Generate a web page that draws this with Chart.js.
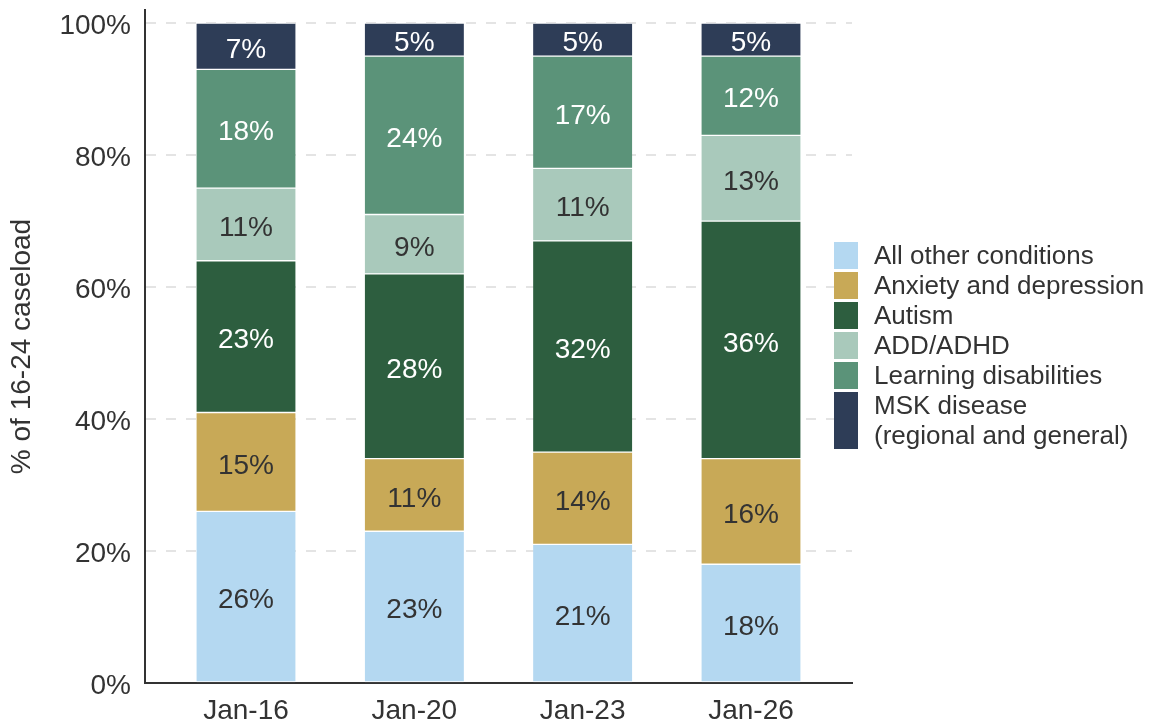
<!DOCTYPE html>
<html lang="en">
<head>
<meta charset="utf-8">
<title>16-24 caseload by condition</title>
<script src="https://cdn.jsdelivr.net/npm/chart.js@4.4.1/dist/chart.umd.min.js"></script>
<style>
  html, body { margin: 0; padding: 0; background: #ffffff; overflow: hidden; }
  #wrap { width: 1157px; height: 723px; }
</style>
</head>
<body>
<div id="wrap"><canvas id="chart-0"></canvas></div>
<script>
// data (percent of 16-24 caseload)
var categories = ['Jan-16', 'Jan-20', 'Jan-23', 'Jan-26'];
var allOther   = [26, 23, 21, 18];
var anxiety    = [15, 11, 14, 16];
var autism     = [23, 28, 32, 36];
var addAdhd    = [11, 9, 11, 13];
var learning   = [18, 24, 17, 12];
var msk        = [7, 5, 5, 5];
var yTicks     = [0, 20, 40, 60, 80, 100];

var FONT = '"Liberation Sans", Arial, Helvetica, sans-serif';
var DARK = '#333333';

function points(arr) {
    return arr.map(function (v, i) { return { x: i, y: v }; });
}

function series(label, arr, color, textColor, legendLines) {
    return {
        label: label,
        data: points(arr),
        backgroundColor: color,
        borderColor: '#ffffff',
        borderWidth: { top: 1, bottom: 1, left: 0, right: 0 },
        borderSkipped: false,
        barThickness: 99,
        textColor: textColor,
        legendLines: legendLines
    };
}

var datasets = [
    series('All other conditions', allOther, '#b4d8f1', DARK, ['All other conditions']),
    series('Anxiety and depression', anxiety, '#c8a957', DARK, ['Anxiety and depression']),
    series('Autism', autism, '#2d5e3f', '#ffffff', ['Autism']),
    series('ADD/ADHD', addAdhd, '#a9c9bb', DARK, ['ADD/ADHD']),
    series('Learning disabilities', learning, '#5b9379', '#ffffff', ['Learning disabilities']),
    series('MSK disease (regional and general)', msk, '#2e3d57', '#ffffff', ['MSK disease', '(regional and general)'])
];

// value labels in the middle of each segment
var segmentLabels = {
    id: 'segmentLabels',
    afterDatasetsDraw: function (chart) {
        var ctx = chart.ctx;
        ctx.save();
        ctx.font = '28px ' + FONT;
        ctx.textAlign = 'center';
        ctx.textBaseline = 'middle';
        chart.data.datasets.forEach(function (ds, di) {
            var meta = chart.getDatasetMeta(di);
            meta.data.forEach(function (bar, i) {
                ctx.fillStyle = ds.textColor;
                ctx.fillText(ds.data[i].y + '%', bar.x, (bar.y + bar.base) / 2 + 4);
            });
        });
        ctx.restore();
    }
};

// legend on the right, first series at the top
var sideLegend = {
    id: 'sideLegend',
    afterDraw: function (chart) {
        var ctx = chart.ctx;
        var x = 834, y = 242, rowH = 30;
        ctx.save();
        ctx.font = '26px ' + FONT;
        ctx.textAlign = 'left';
        ctx.textBaseline = 'middle';
        chart.data.datasets.forEach(function (ds) {
            var n = ds.legendLines.length;
            var h = n * rowH - 3;
            ctx.fillStyle = ds.backgroundColor;
            ctx.fillRect(x, y, 24, h);
            ctx.fillStyle = DARK;
            ds.legendLines.forEach(function (line, k) {
                ctx.fillText(line, x + 40, y + 15 + k * rowH);
            });
            y += n * rowH;
        });
        ctx.restore();
    }
};

var chart = new Chart('chart-0', {
    type: 'bar',
    data: { datasets: datasets },
    options: {
        responsive: true,
        maintainAspectRatio: false,
        animation: false,
        layout: { padding: { top: 10, right: 305, bottom: 0, left: 0 } },
        plugins: {
            legend: { display: false },
            tooltip: { enabled: false }
        },
        scales: {
            x: {
                type: 'linear',
                stacked: true,
                offset: false,
                min: -0.6,
                max: 3.6,
                grid: { display: false, drawTicks: false, offset: false },
                border: { display: true, color: DARK, width: 2 },
                ticks: {
                    stepSize: 1,
                    includeBounds: false,
                    padding: 11,
                    color: DARK,
                    font: { family: FONT, size: 28 },
                    callback: function (v) { return categories[v]; }
                },
                afterBuildTicks: function (scale) {
                    scale.ticks = categories.map(function (c, i) { return { value: i }; });
                },
                afterFit: function (scale) {
                    scale.height = 40;
                    scale.paddingLeft = 0;
                    scale.paddingRight = 0;
                }
            },
            y: {
                stacked: true,
                min: 0,
                max: 102,
                grid: { color: '#e4e4e4', lineWidth: 2, drawTicks: false },
                border: { display: true, color: DARK, width: 2, dash: [10, 10] },
                ticks: {
                    stepSize: 20,
                    includeBounds: false,
                    padding: 14,
                    labelOffset: 3,
                    color: DARK,
                    font: { family: FONT, size: 28 },
                    callback: function (v) { return v + '%'; }
                },
                afterBuildTicks: function (scale) {
                    scale.ticks = yTicks.map(function (v) { return { value: v }; });
                },
                title: {
                    display: true,
                    text: '% of 16-24 caseload',
                    color: DARK,
                    font: { family: FONT, size: 28 },
                    padding: { top: 5, bottom: 0 }
                },
                afterFit: function (scale) {
                    scale.width = 145;
                    scale.paddingTop = 0;
                    scale.paddingBottom = 0;
                }
            }
        }
    },
    plugins: [segmentLabels, sideLegend]
});
</script>
</body>
</html>
